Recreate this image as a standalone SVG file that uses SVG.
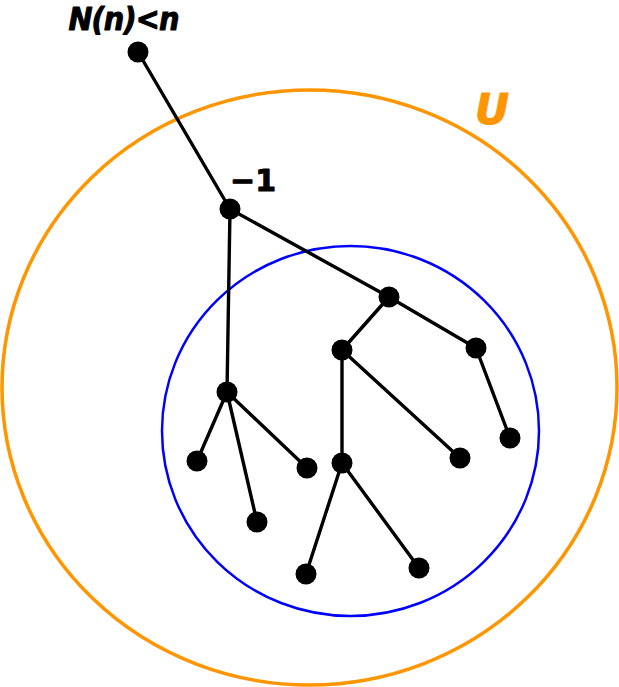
<svg xmlns="http://www.w3.org/2000/svg" width="619" height="687" viewBox="0 0 619 687">
<style>
.edge{stroke:#000;stroke-width:3.4;fill:none;stroke-linecap:round}
.node{fill:#000}
.lbl{font-family:"DejaVu Sans",sans-serif;font-weight:bold;stroke-linejoin:round}
</style>
<rect width="619" height="687" fill="#fff"/>
<ellipse id="U" cx="309.5" cy="387.5" rx="307.5" ry="297.5" fill="none" stroke="#FF9500" stroke-width="3.5"/>
<ellipse id="inner" cx="350.5" cy="431" rx="188.5" ry="185" fill="none" stroke="#0000FF" stroke-width="2.5"/>
<g id="connectors">
<line class="edge" x1="138" y1="52" x2="230" y2="209"/>
<line class="edge" x1="230" y1="209" x2="389" y2="297"/>
<line class="edge" x1="230" y1="209" x2="227" y2="392"/>
<line class="edge" x1="389" y1="297" x2="342" y2="350"/>
<line class="edge" x1="389" y1="297" x2="476" y2="348"/>
<line class="edge" x1="476" y1="348" x2="510" y2="438"/>
<line class="edge" x1="342" y1="350" x2="460" y2="458"/>
<line class="edge" x1="342" y1="350" x2="342" y2="463"/>
<line class="edge" x1="227" y1="392" x2="197" y2="461"/>
<line class="edge" x1="227" y1="392" x2="307" y2="468"/>
<line class="edge" x1="227" y1="392" x2="257" y2="522"/>
<line class="edge" x1="342" y1="463" x2="306" y2="574"/>
<line class="edge" x1="342" y1="463" x2="419" y2="568"/>
</g>
<g id="nA"><circle class="node" cx="138" cy="52" r="10.5"/></g>
<g id="nB"><circle class="node" cx="230" cy="209" r="10.5"/></g>
<g id="nC"><circle class="node" cx="389" cy="297" r="10.5"/></g>
<g id="nD"><circle class="node" cx="342" cy="350" r="10.5"/></g>
<g id="nE"><circle class="node" cx="476" cy="348" r="10.5"/></g>
<g id="nF"><circle class="node" cx="227" cy="392" r="10.5"/></g>
<g id="nG"><circle class="node" cx="510" cy="438" r="10.5"/></g>
<g id="nH"><circle class="node" cx="460" cy="458" r="10.5"/></g>
<g id="nI"><circle class="node" cx="197" cy="461" r="10.5"/></g>
<g id="nJ"><circle class="node" cx="307" cy="468" r="10.5"/></g>
<g id="nK"><circle class="node" cx="342" cy="463" r="10.5"/></g>
<g id="nL"><circle class="node" cx="257" cy="522" r="10.5"/></g>
<g id="nM"><circle class="node" cx="306" cy="574" r="10.5"/></g>
<g id="nN"><circle class="node" cx="419" cy="568" r="10.5"/></g>
<text class="lbl" transform="scale(0.9,1)" x="76" y="30" font-size="32" font-style="italic" letter-spacing="-1" stroke="#000" stroke-width="1">N(n)&lt;n</text>
<text class="lbl" x="230" y="191" font-size="30" stroke="#000" stroke-width="1">−1</text>
<text class="lbl" x="475" y="124" font-size="42" font-style="italic" fill="#FF9500" stroke="#FF9500" stroke-width="1">U</text>
</svg>
